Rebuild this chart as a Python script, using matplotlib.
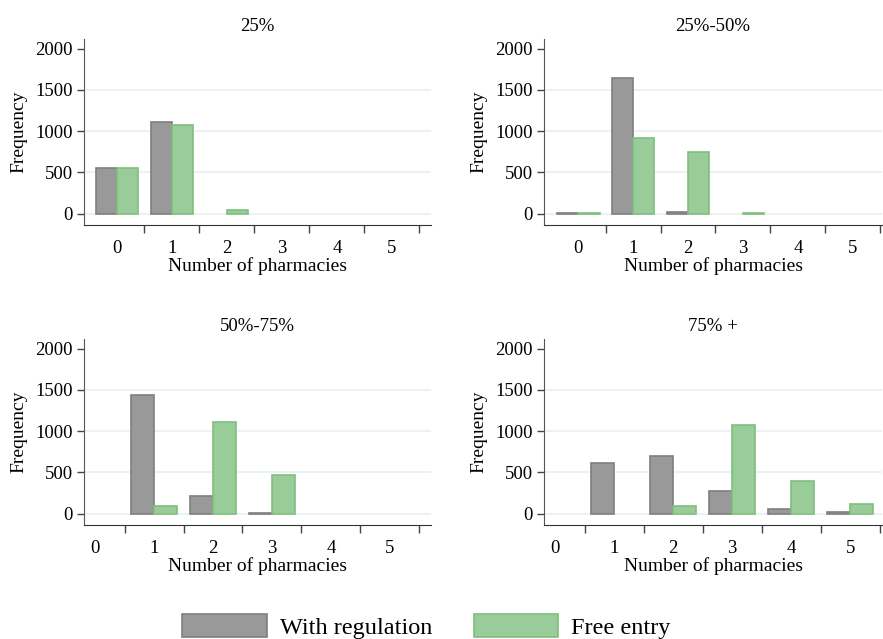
import matplotlib
matplotlib.use("Agg")
import matplotlib.pyplot as plt
import numpy as np
from matplotlib.patches import Patch

plt.rcParams['font.family'] = ['Liberation Serif', 'DejaVu Serif']

categories = [0, 1, 2, 3, 4, 5]
titles = ["25%", "25%-50%", "50%-75%", "75% +"]
series_names = ["With regulation", "Free entry"]

reg_25 = [552, 1111, 0, 0, 0, 0]
free_25 = [552, 1075, 40, 0, 0, 0]
reg_25_50 = [10, 1646, 22, 0, 0, 0]
free_25_50 = [10, 921, 750, 10, 0, 0]
reg_50_75 = [0, 1436, 219, 10, 0, 0]
free_50_75 = [0, 89, 1107, 466, 0, 0]
reg_75 = [0, 612, 698, 280, 53, 15]
free_75 = [0, 0, 89, 1075, 393, 118]

yticks = [0, 500, 1000, 1500, 2000]
gridlines = [0, 500, 1000, 1500]

reg_vals = [reg_25, reg_25_50, reg_50_75, reg_75]
free_vals = [free_25, free_25_50, free_50_75, free_75]

W, H = 883, 639
fig = plt.figure(figsize=(W / 100, H / 100), dpi=100)

# axes boxes in pixels: (left, right, top, bottom)
boxes = [(84, 431, 39, 225), (544, 882, 39, 225),
         (84, 431, 339, 525), (544, 882, 339, 525)]
xlims = [(-0.6, 5.71), (-0.62, 5.53), (-0.19, 5.7), (-0.19, 5.54)]

gray_fc, gray_ec = "#999999", "#7f7f7f"
green_fc, green_ec = "#99cc99", "#7fbf7f"
bw = 0.39

for i in range(4):
    l, r, t, b = boxes[i]
    ax = fig.add_axes([l / W, 1 - b / H, (r - l) / W, (b - t) / H])
    x = np.array(categories, dtype=float)
    for g in gridlines:
        ax.axhline(g, color="#eaf2f3", lw=1.5, zorder=0)
    rv = np.array(reg_vals[i], dtype=float)
    fv = np.array(free_vals[i], dtype=float)
    ax.bar(x - bw / 2, rv, width=bw, color=gray_fc, edgecolor=gray_ec,
           linewidth=np.where(rv > 0, 1.2, 0.0), zorder=2)
    ax.bar(x + bw / 2, fv, width=bw, color=green_fc, edgecolor=green_ec,
           linewidth=np.where(fv > 0, 1.2, 0.0), zorder=2)
    ax.set_xlim(*xlims[i])
    ax.set_ylim(-137, 2118)
    for s in ["top", "right"]:
        ax.spines[s].set_visible(False)
    ax.spines["left"].set_color("#555555")
    ax.spines["bottom"].set_color("#333333")
    ax.set_yticks(yticks)
    ax.set_yticklabels([str(v) for v in yticks], fontsize=13.5)
    ax.tick_params(axis="y", length=5, width=1, color="#444444", pad=3)
    ax.set_xticks(categories)
    ax.set_xticklabels([str(c) for c in categories], fontsize=13.5)
    ax.set_xticks([c + 0.5 for c in categories], minor=True)
    ax.tick_params(axis="x", which="major", length=0, pad=11)
    ax.tick_params(axis="x", which="minor", length=6, width=1, color="#444444")
    ax.set_xlabel("Number of pharmacies", fontsize=14, labelpad=0)
    ax.set_ylabel("Frequency", fontsize=14, labelpad=6)
    ax.set_title(titles[i], fontsize=13.5, pad=6)

handles = [Patch(facecolor=gray_fc, edgecolor=gray_ec, linewidth=1.2),
           Patch(facecolor=green_fc, edgecolor=green_ec, linewidth=1.2)]
fig.legend(handles, series_names, loc="upper center", bbox_to_anchor=(0.483, 1 - 592 / H),
           ncol=2, frameon=False, fontsize=17.5, handlelength=3.46, handleheight=1.1,
           handletextpad=0.55, columnspacing=1.7)

fig.savefig("out.png", dpi=100)
